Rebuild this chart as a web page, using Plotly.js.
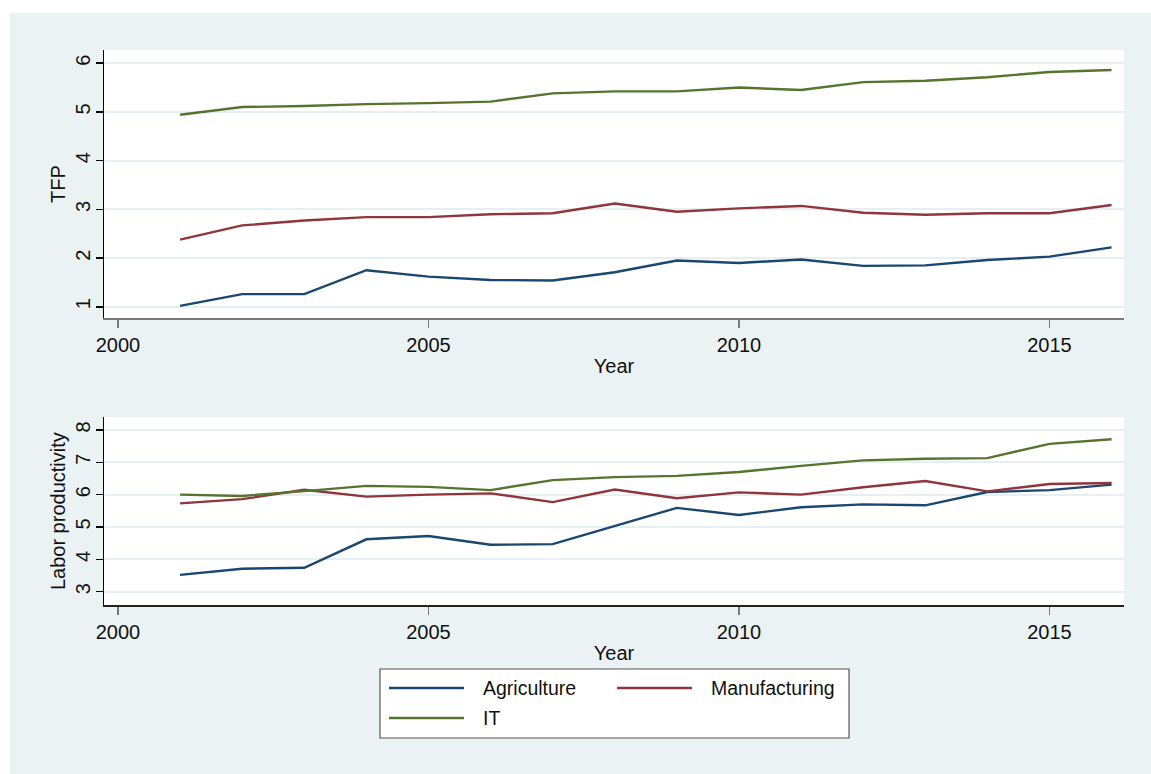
<!DOCTYPE html>
<html>
<head>
<meta charset="utf-8">
<script src="https://cdn.plot.ly/plotly-3.0.1.min.js"></script>
<style>
  html, body { margin: 0; padding: 0; background: #ffffff; }
  #chart { position: absolute; left: 10px; top: 13px; width: 1141px; height: 761px; }
</style>
</head>
<body>
<div id="chart"></div>
<script>
// Years covered by both panels
const years = [2001, 2002, 2003, 2004, 2005, 2006, 2007, 2008,
               2009, 2010, 2011, 2012, 2013, 2014, 2015, 2016];

// Sector names (legend order)
const sectors = ["Agriculture", "Manufacturing", "IT"];

// Total factor productivity by sector
const tfpAgriculture   = [1.02, 1.26, 1.26, 1.75, 1.62, 1.55, 1.54, 1.71, 1.95, 1.90, 1.97, 1.84, 1.85, 1.96, 2.03, 2.22];
const tfpManufacturing = [2.38, 2.67, 2.77, 2.84, 2.84, 2.90, 2.92, 3.12, 2.95, 3.02, 3.07, 2.93, 2.89, 2.92, 2.92, 3.09];
const tfpIT            = [4.94, 5.10, 5.12, 5.16, 5.18, 5.21, 5.38, 5.42, 5.42, 5.50, 5.45, 5.61, 5.64, 5.71, 5.82, 5.86];

// Labor productivity by sector
const lpAgriculture    = [3.52, 3.71, 3.74, 4.62, 4.72, 4.45, 4.47, 5.03, 5.59, 5.37, 5.61, 5.70, 5.67, 6.08, 6.14, 6.31];
const lpManufacturing  = [5.73, 5.86, 6.15, 5.94, 6.00, 6.04, 5.77, 6.16, 5.89, 6.07, 6.00, 6.23, 6.42, 6.10, 6.33, 6.36];
const lpIT             = [6.00, 5.96, 6.11, 6.27, 6.24, 6.14, 6.45, 6.54, 6.58, 6.70, 6.89, 7.06, 7.11, 7.13, 7.57, 7.71];

// Axis ticks
const xTicks = [2000, 2005, 2010, 2015];
const tfpTicks = [1, 2, 3, 4, 5, 6];
const lpTicks = [3, 4, 5, 6, 7, 8];

// ---- styling ----
const colors = ["#1a476f", "#90353b", "#55752f"];
const FONT = "Liberation Sans, Arial, sans-serif";
const W = 1141, H = 761;
const M = { l: 94, r: 27, t: 37, b: 169 };
const plotW = W - M.l - M.r, plotH = H - M.t - M.b;
const px2x = p => (p - M.l) / plotW;          // horizontal pixel -> paper
const px2y = p => (H - M.b - p) / plotH;      // vertical pixel -> paper

const tfpSeries = [tfpAgriculture, tfpManufacturing, tfpIT];
const lpSeries = [lpAgriculture, lpManufacturing, lpIT];

const traces = [];
sectors.forEach((name, i) => {
  traces.push({ x: years, y: tfpSeries[i], name: name, type: "scatter", mode: "lines",
                xaxis: "x", yaxis: "y", line: { color: colors[i], width: 2.4 }, showlegend: false });
});
sectors.forEach((name, i) => {
  traces.push({ x: years, y: lpSeries[i], name: name, type: "scatter", mode: "lines",
                xaxis: "x2", yaxis: "y2", line: { color: colors[i], width: 2.4 }, showlegend: false });
});

const tickFont = { family: FONT, size: 20, color: "#111111" };
const titleFont = { family: FONT, size: 20, color: "#111111" };

function xAxis(anchor, lineColor) {
  return {
    anchor: anchor, domain: [0, 1], range: [1999.775, 2016.2],
    tickmode: "array", tickvals: xTicks, ticktext: xTicks.map(String),
    ticks: "outside", ticklen: 8, tickwidth: 1.5, tickcolor: "#7a7a7a",
    showline: true, linecolor: lineColor, linewidth: 1.5,
    showgrid: false, zeroline: false, fixedrange: true,
    tickfont: tickFont, ticklabelstandoff: 0,
    title: { text: "Year", font: titleFont, standoff: 4 }
  };
}
function yAxis(anchor, domain, range, ticks, title) {
  return {
    anchor: anchor, domain: domain, range: range,
    tickmode: "array", tickvals: ticks, ticktext: ticks.map(String),
    tickangle: -90, ticks: "outside", ticklen: 7, tickwidth: 1.5, tickcolor: "#000000",
    showline: true, linecolor: "#000000", linewidth: 1.5,
    showgrid: true, gridcolor: "#e8eff2", gridwidth: 2,
    zeroline: false, fixedrange: true,
    tickfont: tickFont, ticklabelstandoff: -2,
    title: { text: title, font: titleFont, standoff: 0 }
  };
}

// Legend drawn as a boxed two-column key below the lower panel
const shapes = [{
  type: "rect", xref: "paper", yref: "paper",
  x0: px2x(370), x1: px2x(839), y0: px2y(725), y1: px2y(656),
  fillcolor: "#ffffff", line: { color: "#555555", width: 1.2 }
}];
const annotations = [];
const keySlots = [
  { x: 379, y: 675 }, { x: 607, y: 675 }, { x: 379, y: 705 }
];
sectors.forEach((name, i) => {
  const s = keySlots[i];
  shapes.push({ type: "line", xref: "paper", yref: "paper",
    x0: px2x(s.x), x1: px2x(s.x + 75), y0: px2y(s.y), y1: px2y(s.y),
    line: { color: colors[i], width: 2.4 } });
  annotations.push({ xref: "paper", yref: "paper", x: px2x(s.x + 92), y: px2y(s.y),
    xanchor: "left", yanchor: "middle", text: name, showarrow: false,
    font: { family: FONT, size: 19.5, color: "#111111" } });
});

const layout = {
  width: W, height: H, margin: M,
  paper_bgcolor: "#eaf2f3", plot_bgcolor: "#ffffff",
  font: { family: FONT, color: "#111111" },
  showlegend: false,
  xaxis: xAxis("y", "#7a7a7a"),
  yaxis: yAxis("x", [px2y(305), 1], [0.77, 6.27], tfpTicks, "TFP"),
  xaxis2: xAxis("y2", "#222222"),
  yaxis2: yAxis("x2", [0, px2y(404.3)], [2.59, 8.39], lpTicks, "Labor productivity"),
  shapes: shapes, annotations: annotations
};

Plotly.newPlot("chart", traces, layout, { displayModeBar: false, staticPlot: true });
</script>
</body>
</html>
